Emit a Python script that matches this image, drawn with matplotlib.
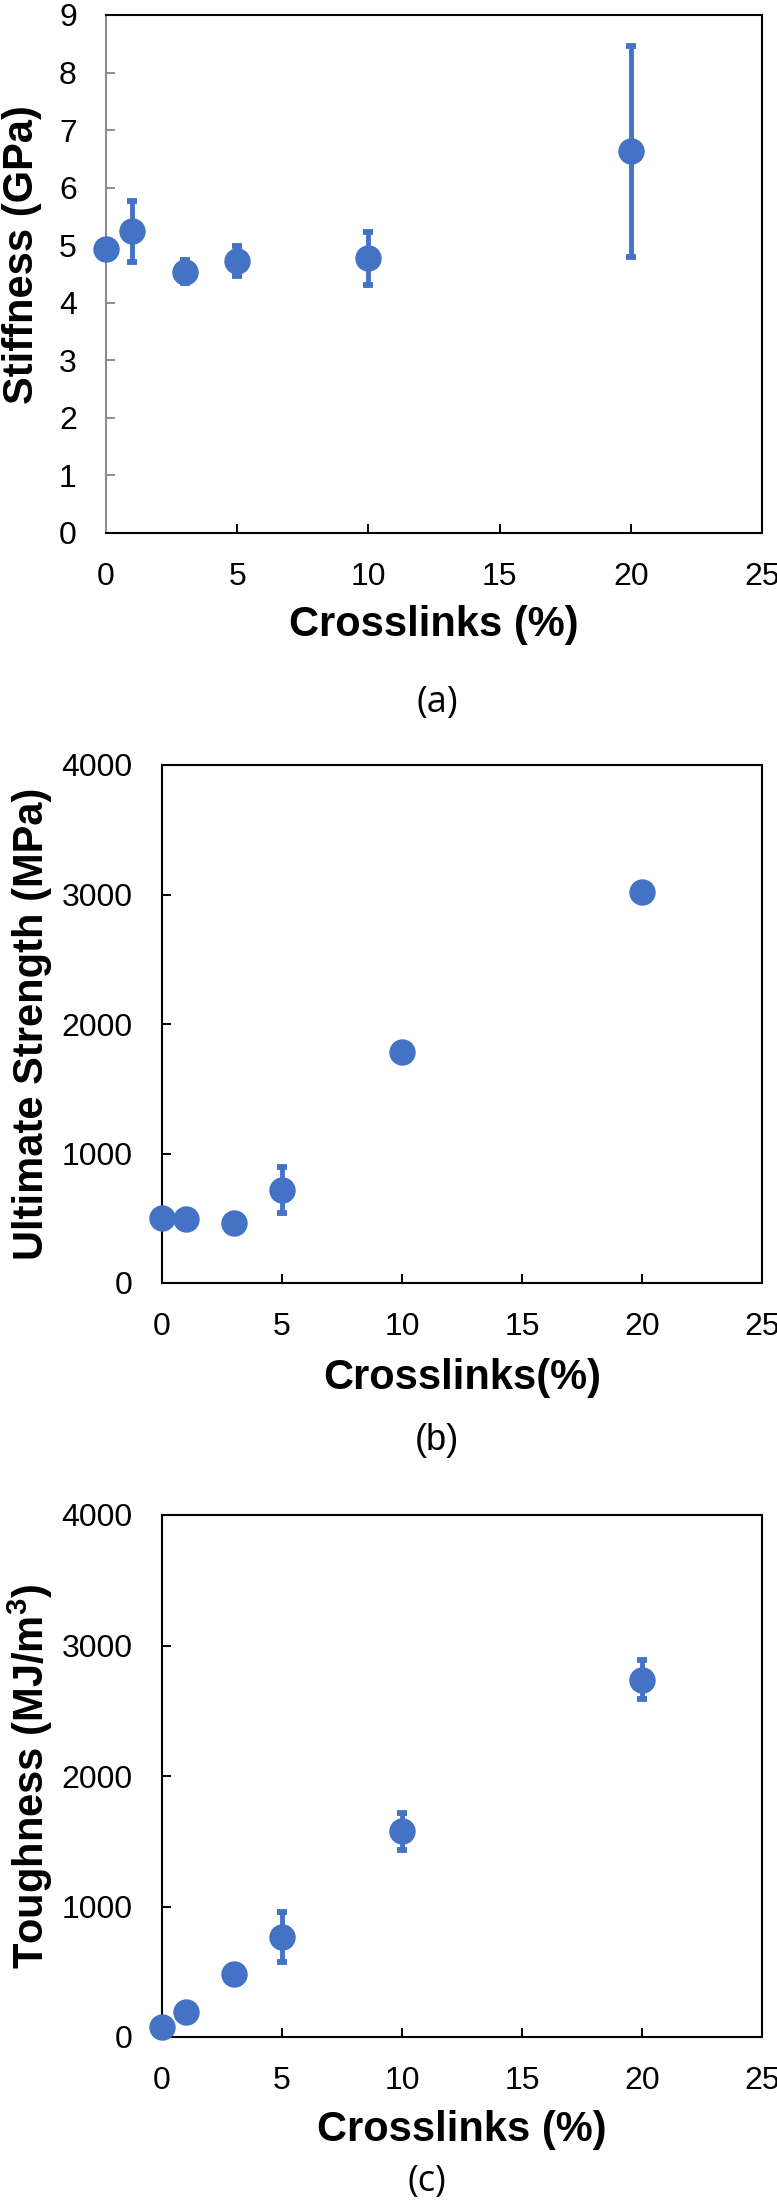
import matplotlib.pyplot as plt

# crosslink content (%) shared by all three panels
crosslinks = [0, 1, 3, 5, 10, 20]

stiffness = [4.93, 5.24, 4.54, 4.73, 4.77, 6.63]
stiffness_err = [0.08, 0.53, 0.2, 0.26, 0.46, 1.83]

strength = [500, 492, 466, 716, 1782, 3020]
strength_err = [40, 40, 40, 176, 50, 50]

toughness = [74, 192, 480, 768, 1575, 2738]
toughness_err = [20, 30, 40, 190, 140, 148]

blue = "#4472C4"
W, H = 777, 2202

plt.rcParams["font.family"] = ["Liberation Sans", "DejaVu Sans"]
plt.rcParams["mathtext.fontset"] = "custom"
plt.rcParams["mathtext.rm"] = "Liberation Sans"
plt.rcParams["mathtext.bf"] = "Liberation Sans:bold"

fig = plt.figure(figsize=(W / 100, H / 100), dpi=100)


def box(left, top, right, bottom):
    return [left / W, 1 - bottom / H, (right - left) / W, (bottom - top) / H]


ax_a = fig.add_axes(box(106, 15, 762, 533))
ax_b = fig.add_axes(box(162, 765, 762, 1283))
ax_c = fig.add_axes(box(162, 1515, 762, 2037))

panels = [
    (ax_a, stiffness, stiffness_err, 9, 1, "Stiffness (GPa)", "Crosslinks (%)"),
    (ax_b, strength, strength_err, 4000, 1000, "Ultimate Strength (MPa)", "Crosslinks(%)"),
    (ax_c, toughness, toughness_err, 4000, 1000, r"Toughness (MJ/m$\mathbf{^3}$)", "Crosslinks (%)"),
]

for ax, vals, errs, ymax, ystep, ylab, xlab in panels:
    ax.errorbar(crosslinks, vals, yerr=errs, fmt="o", color=blue, ms=18,
                elinewidth=3.5, capsize=3.6, capthick=4.2, clip_on=False, zorder=3)
    ax.set_xlim(0, 25)
    ax.set_ylim(0, ymax)
    ax.set_xticks(range(0, 26, 5))
    ax.set_yticks(range(0, ymax + 1, ystep))
    ax.tick_params(direction="in", length=6.5, width=1.4, labelsize=23, pad=21)
    for s in ax.spines.values():
        s.set_linewidth(1.5)
    ax.set_xlabel(xlab, fontsize=30, fontweight="bold")
    ax.set_ylabel(ylab, fontsize=30, fontweight="bold")
    ax.xaxis.label.set_va("center")
    ax.yaxis.label.set_va("center")

# panel (a) has a grey value axis
ax_a.spines["left"].set_color("#8c8c8c")
ax_a.tick_params(axis="y", color="#8c8c8c")

ax_a.xaxis.set_label_coords(0.5, -0.178)
ax_a.yaxis.set_label_coords((22 - 106) / 656, 0.537)
ax_b.xaxis.set_label_coords(0.5, -0.183)
ax_b.yaxis.set_label_coords((32 - 162) / 600, 0.5)
ax_c.xaxis.set_label_coords(0.5, -0.178)
ax_c.yaxis.set_label_coords((30 - 162) / 600, 0.5)

fig.text(437 / W, 1 - 703 / H, "(a)", fontsize=26, family="Open Sans", ha="center", va="center")
fig.text(437 / W, 1 - 1440 / H, "(b)", fontsize=26, ha="center", va="center")
fig.text(427 / W, 1 - 2182 / H, "(c)", fontsize=26, family="Open Sans", ha="center", va="center")

fig.savefig("out.png", dpi=100)
